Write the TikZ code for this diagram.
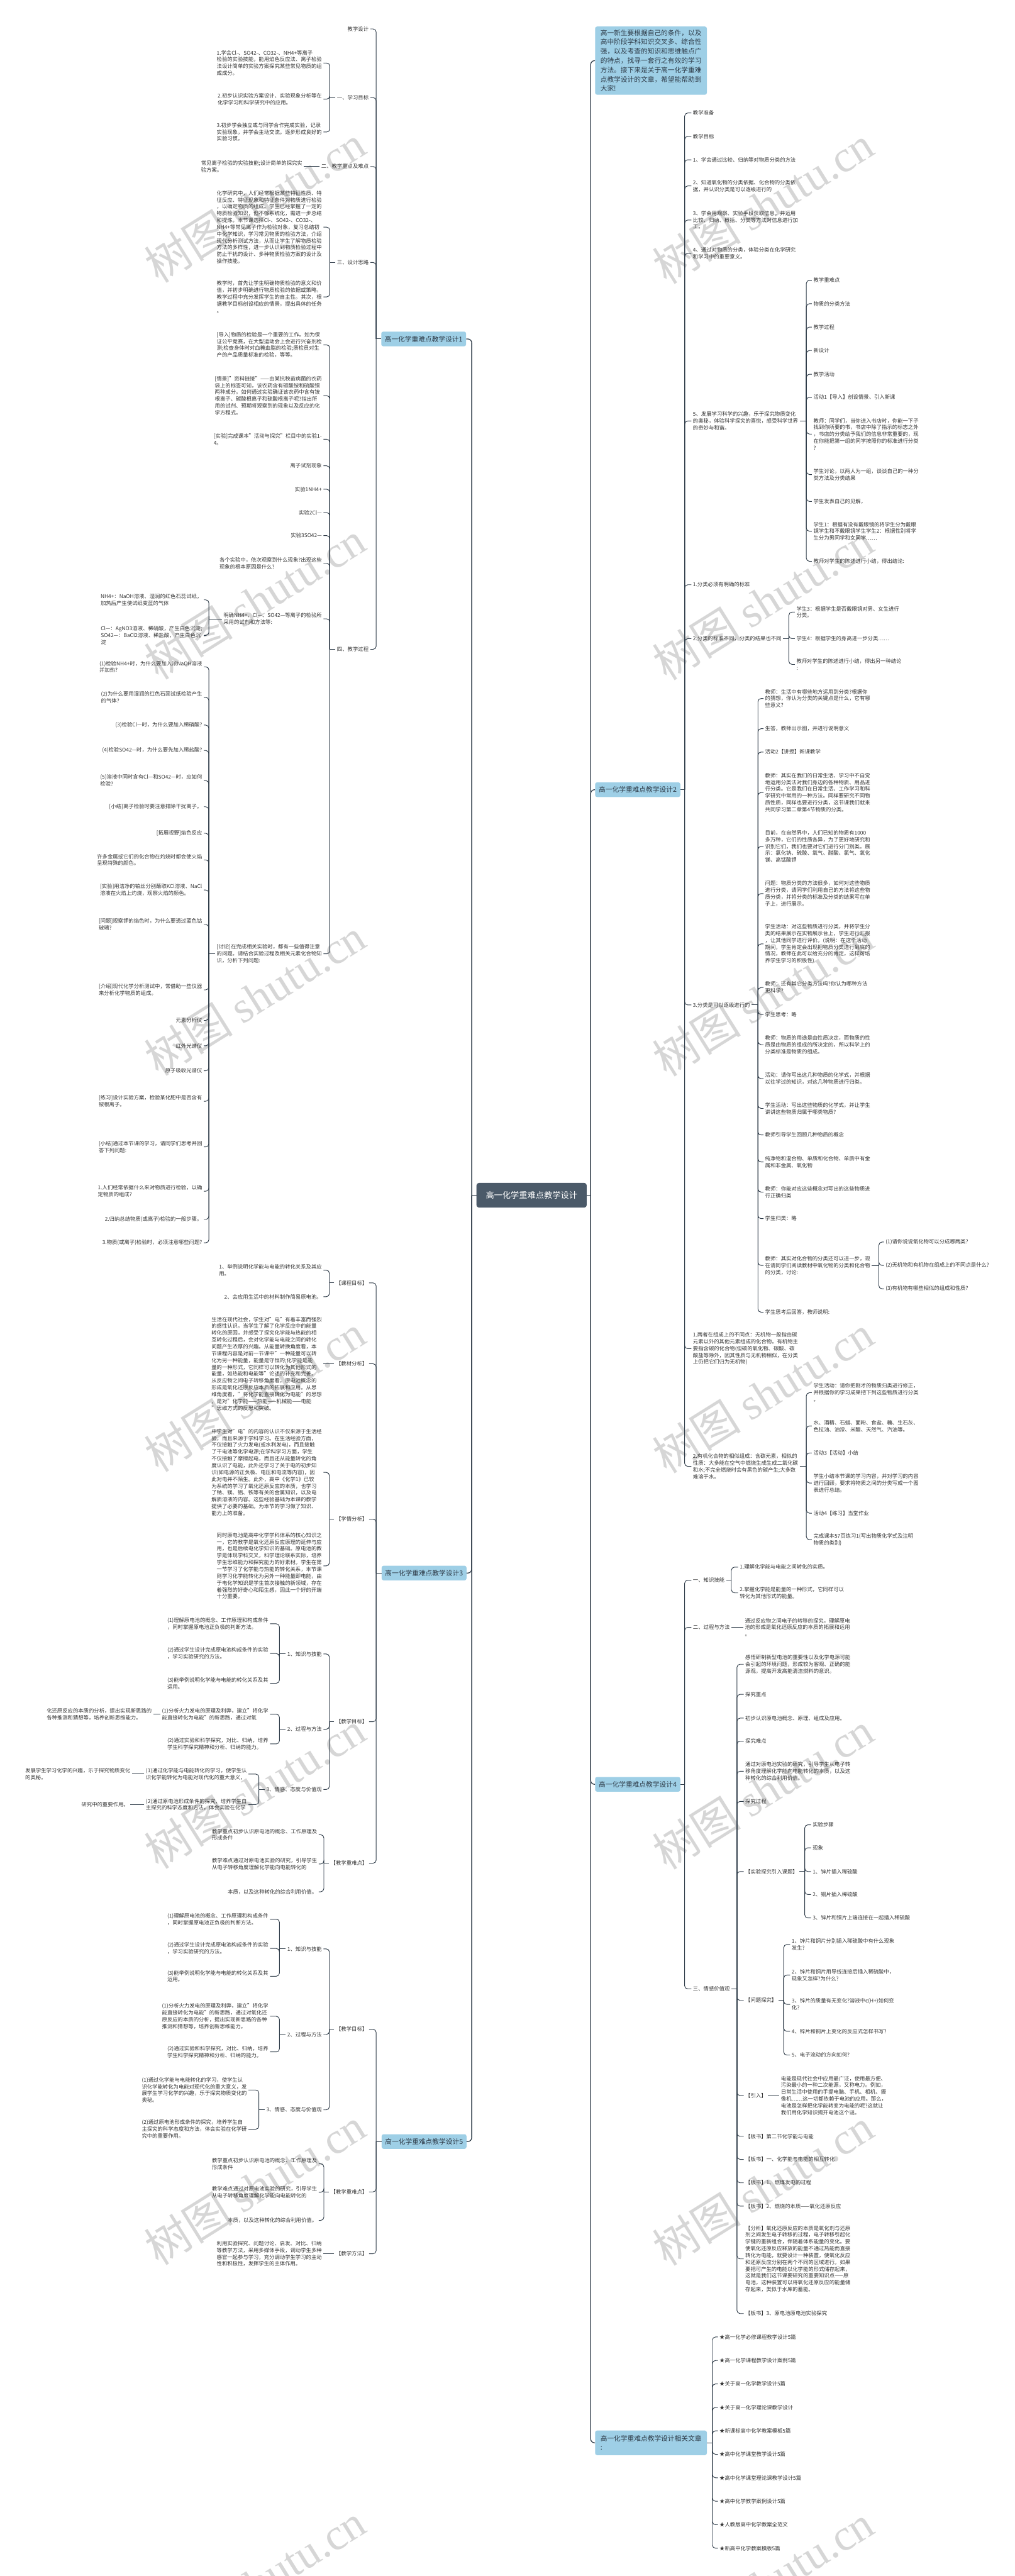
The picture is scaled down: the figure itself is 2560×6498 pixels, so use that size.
\documentclass[tikz,border=0pt]{standalone}
\usepackage{fontspec}
\setmainfont{Noto Sans CJK SC}
\newfontfamily\wmfont{Liberation Serif}

\definecolor{linec}{HTML}{2E3B48}
\definecolor{textc}{HTML}{333333}
\definecolor{topicc}{HTML}{9ECFE6}
\definecolor{rootc}{HTML}{4B5A69}

\tikzset{
  txt/.style={font=\fontsize{13.25}{17.2}\selectfont, align=left, inner xsep=4pt, inner ysep=1pt, text=textc},
  link/.style={draw=linec, line width=1.5pt, rounded corners=8pt},
  trunk/.style={draw=linec, line width=2pt, rounded corners=10pt},
  topic/.style={fill=topicc, rounded corners=5pt, font=\fontsize{17}{22}\selectfont, text=linec, inner xsep=8pt, inner ysep=4pt, minimum height=37pt, align=left},
  root/.style={fill=rootc, text=white, rounded corners=6pt, font=\fontsize{21}{26}\selectfont, minimum width=278pt, minimum height=62pt},
  wm/.style={text=black!16, rotate=32, font=\fontsize{112}{112}\selectfont}
}

\begin{document}
\begin{tikzpicture}[x=1pt,y=-1pt]
\useasboundingbox (0,0) rectangle (2560,6498);
\fill[white] (0,0) rectangle (2560,6498);

% watermarks
\foreach \k in {0,...,6} {
  \node[wm] at (643,{515+1000*\k}) {树图 {\wmfont shutu.cn}};
  \node[wm] at (1925,{517+1000*\k}) {树图 {\wmfont shutu.cn}};
}

% root and main topics
\node[root] (root) at (1341,3015) {高一化学重难点教学设计};
\node[topic, anchor=east, minimum width=214pt] (d1) at (1176,855) {高一化学重难点教学设计1};
\node[topic, anchor=east, minimum width=214pt] (d3) at (1177,3968) {高一化学重难点教学设计3};
\node[topic, anchor=east, minimum width=214pt] (d5) at (1177,5402) {高一化学重难点教学设计5};
\node[topic, anchor=west, minimum width=282pt, minimum height=172pt, font=\fontsize{17}{23.5}\selectfont] (intro) at (1501,153) {高一新生要根据自己的条件，以及\\高中阶段学科知识交叉多、综合性\\强，以及考查的知识和思维触点广\\的特点，找寻一套行之有效的学习\\方法。接下来是关于高一化学重难\\点教学设计的文章，希望能帮助到\\大家!};
\node[topic, anchor=west, minimum width=215pt] (d2) at (1501,1992) {高一化学重难点教学设计2};
\node[topic, anchor=west, minimum width=215pt] (d4) at (1501,4501) {高一化学重难点教学设计4};
\node[topic, anchor=west, minimum width=282pt, minimum height=62pt] (rel) at (1501,6162) {高一化学重难点教学设计相关文章\\:};

\coordinate (rootL) at (1190,3015);
\coordinate (rootR) at (1490,3015);
\draw[trunk] (root.west) -- (rootL);
\foreach \t in {d1,d3,d5} \draw[trunk] (rootL) |- (\t.east);
\draw[trunk] (root.east) -- (rootR);
\foreach \t in {intro,d2,d4,rel} \draw[trunk] (rootR) |- (\t.west);

% ---------- design 1 ----------
\node[txt, anchor=east] (d1a) at (934,73) {教学设计};
\node[txt, anchor=east] (d1b) at (934,246) {一、学习目标};
\node[txt, anchor=east] (d1c) at (934,420) {二、教学重点及难点};
\node[txt, anchor=east] (d1d) at (934,662) {三、设计思路};
\node[txt, anchor=east] (d1e) at (934,1638) {四、教学过程};
\coordinate (d1-j) at (949,855);
\draw[link] (d1.west) -- (d1-j);
\foreach \c in {d1a,d1b,d1c,d1d,d1e} \draw[link] (d1-j) |- (\c.east);

\node[txt, anchor=east] (d1b1) at (816,159) {1.学会Cl-、SO42-、CO32-、NH4+等离子\\检验的实验技能，能用焰色反应法、离子检验\\法设计简单的实验方案探究某些常见物质的组\\成成分。};
\node[txt, anchor=east] (d1b2) at (816,250) {2.初步认识实验方案设计、实验现象分析等在\\化学学习和科学研究中的应用。};
\node[txt, anchor=east] (d1b3) at (816,333) {3.初步学会独立或与同学合作完成实验，记录\\实验现象，并学会主动交流。逐步形成良好的\\实验习惯。};
\coordinate (d1b-j) at (832,246);
\draw[link] (d1b.west) -- (d1b-j);
\foreach \c in {d1b1,d1b2,d1b3} \draw[link] (d1b-j) |- (\c.east);

\node[txt, anchor=east] (d1c1) at (767,420) {常见离子检验的实验技能;设计简单的探究实\\验方案。};
\draw[link] (d1c.west) -- (d1c1.east);

\node[txt, anchor=east] (d1d1) at (816,573) {化学研究中，人们经常根据某些特征性质、特\\征反应、特征现象和特征条件对物质进行检验\\，以确定物质的组成。学生已经掌握了一定的\\物质检验知识，但不够系统化，需进一步总结\\和提炼。本节课选择Cl-、SO42-、CO32-、\\NH4+等常见离子作为检验对象，复习总结初\\中化学知识，学习常见物质的检验方法，介绍\\现代分析测试方法，从而让学生了解物质检验\\方法的多样性，进一步认识到物质检验过程中\\防止干扰的设计、多种物质检验方案的设计及\\操作技能。};
\node[txt, anchor=east] (d1d2) at (816,749) {教学时，首先让学生明确物质检验的意义和价\\值，并初步明确进行物质检验的依据或策略，\\教学过程中充分发挥学生的自主性。其次，根\\据教学目标创设相应的情景，提出具体的任务\\。};
\coordinate (d1d-j) at (832,662);
\draw[link] (d1d.west) -- (d1d-j);
\foreach \c in {d1d1,d1d2} \draw[link] (d1d-j) |- (\c.east);

\node[txt, anchor=east] (d1e1) at (816,870) {{}[导入]物质的检验是一个重要的工作。如为保\\证公平竞赛，在大型运动会上会进行兴奋剂检\\测;检查身体时对血糖血脂的检验;质检员对生\\产的产品质量标准的检验，等等。};
\node[txt, anchor=east] (d1e2) at (816,998) {{}[情景]"资料链接"——由某抗秧苗病菌的农药\\袋上的标签可知，该农药含有碳酸铵和硫酸铜\\两种成分。如何通过实验确证该农药中含有铵\\根离子、碳酸根离子和硫酸根离子呢?指出所\\用的试剂、预期将观察到的现象以及反应的化\\学方程式。};
\node[txt, anchor=east] (d1e3) at (816,1108) {{}[实验]完成课本"活动与探究"栏目中的实验1-\\4。};
\node[txt, anchor=east] (d1e4) at (816,1175) {离子试剂现象};
\node[txt, anchor=east] (d1e5) at (816,1234) {实验1NH4+};
\node[txt, anchor=east] (d1e6) at (816,1293) {实验2Cl—};
\node[txt, anchor=east] (d1e7) at (816,1351) {实验3SO42—};
\node[txt, anchor=east] (d1e8) at (816,1421) {各个实验中，依次观察到什么现象?出现这些\\现象的根本原因是什么?};
\node[txt, anchor=east] (d1e9) at (816,1561) {明确NH4+、Cl—、SO42—等离子的检验所\\采用的试剂和方法等:};
\node[txt, anchor=east] (d1e10) at (816,2406) {{}[讨论]在完成相关实验时，都有一些值得注意\\的问题。请结合实验过程及相关元素化合物知\\识，分析下列问题:};
\coordinate (d1e-j) at (832,1638);
\draw[link] (d1e.west) -- (d1e-j);
\foreach \c in {d1e1,d1e2,d1e3,d1e4,d1e5,d1e6,d1e7,d1e8,d1e9,d1e10} \draw[link] (d1e-j) |- (\c.east);

\node[txt, anchor=east] (d1g1) at (514,1513) {NH4+：NaOH溶液、湿润的红色石蕊试纸，\\加热后产生使试纸变蓝的气体};
\node[txt, anchor=east] (d1g2) at (514,1603) {Cl—：AgNO3溶液、稀硝酸，产生白色沉淀;\\SO42—：BaCl2溶液、稀盐酸，产生白色沉\\淀};
\coordinate (d1e9-j) at (527,1561);
\draw[link] (d1e9.west) -- (d1e9-j);
\foreach \c in {d1g1,d1g2} \draw[link] (d1e9-j) |- (\c.east);

\node[txt, anchor=east] (d1f1) at (514,1682) {(1)检验NH4+时，为什么要加入浓NaOH溶液\\并加热?};
\node[txt, anchor=east] (d1f2) at (514,1759) {(2)为什么要用湿润的红色石蕊试纸检验产生\\的气体?};
\node[txt, anchor=east] (d1f3) at (514,1829) {(3)检验Cl—时，为什么要加入稀硝酸?};
\node[txt, anchor=east] (d1f4) at (514,1893) {(4)检验SO42—时，为什么要先加入稀盐酸?};
\node[txt, anchor=east] (d1f5) at (514,1969) {(5)溶液中同时含有Cl—和SO42—时，应如何\\检验?};
\node[txt, anchor=east] (d1f6) at (514,2035) {{}[小结]离子检验时要注意排除干扰离子。};
\node[txt, anchor=east] (d1f7) at (514,2102) {{}[拓展视野]焰色反应};
\node[txt, anchor=east] (d1f8) at (514,2169) {许多金属或它们的化合物在灼烧时都会使火焰\\呈现特殊的颜色。};
\node[txt, anchor=east] (d1f9) at (514,2245) {{}[实验]用洁净的铂丝分别蘸取KCl溶液、NaCl\\溶液在火焰上灼烧，观察火焰的颜色。};
\node[txt, anchor=east] (d1f10) at (514,2332) {{}[问题]观察钾的焰色时，为什么要透过蓝色钴\\玻璃?};
\node[txt, anchor=east] (d1f11) at (514,2497) {{}[介绍]现代化学分析测试中，常借助一些仪器\\来分析化学物质的组成。};
\node[txt, anchor=east] (d1f12) at (514,2574) {元素分析仪};
\node[txt, anchor=east] (d1f13) at (514,2638) {红外光谱仪};
\node[txt, anchor=east] (d1f14) at (514,2701) {原子吸收光谱仪};
\node[txt, anchor=east] (d1f15) at (514,2778) {{}[练习]设计实验方案，检验某化肥中是否含有\\铵根离子。};
\node[txt, anchor=east] (d1f16) at (514,2893) {{}[小结]通过本节课的学习，请同学们思考并回\\答下列问题:};
\node[txt, anchor=east] (d1f17) at (514,3005) {1.人们经常依据什么来对物质进行检验，以确\\定物质的组成?};
\node[txt, anchor=east] (d1f18) at (514,3076) {2.归纳总结物质(或离子)检验的一般步骤。};
\node[txt, anchor=east] (d1f19) at (514,3135) {3.物质(或离子)检验时，必须注意哪些问题?};
\coordinate (d1e10-j) at (527,2406);
\draw[link] (d1e10.west) -- (d1e10-j);
\foreach \i in {1,...,19} \draw[link] (d1e10-j) |- (d1f\i.east);

% ---------- design 3 ----------
\node[txt, anchor=east] (d3a) at (931,3236) {【课程目标】};
\node[txt, anchor=east] (d3b) at (931,3440) {【教材分析】};
\node[txt, anchor=east] (d3c) at (931,3832) {【学情分析】};
\node[txt, anchor=east] (d3d) at (931,4343) {【教学目标】};
\node[txt, anchor=east] (d3e) at (931,4700) {【教学重难点】};
\coordinate (d3-j) at (949,3968);
\draw[link] (d3.west) -- (d3-j);
\foreach \c in {d3a,d3b,d3c,d3d,d3e} \draw[link] (d3-j) |- (\c.east);

\node[txt, anchor=east] (d3a1) at (816,3204) {1、举例说明化学能与电能的转化关系及其应\\用。};
\node[txt, anchor=east] (d3a2) at (816,3271) {2、会应用生活中的材料制作简易原电池。};
\coordinate (d3a-j) at (831,3236);
\draw[link] (d3a.west) -- (d3a-j);
\foreach \c in {d3a1,d3a2} \draw[link] (d3a-j) |- (\c.east);

\node[txt, anchor=east] (d3b1) at (816,3440) {生活在现代社会，学生对"电"有着丰富而强烈\\的感性认识。当学生了解了化学反应中的能量\\转化的原因，并感受了探究化学能与热能的相\\互转化过程后，会对化学能与电能之间的转化\\问题产生浓厚的兴趣。从能量转换角度看，本\\节课程内容是对前一节课中"一种能量可以转\\化为另一种能量，能量是守恒的;化学能是能\\量的一种形式，它同样可以转化为其他形式的\\能量，如热能和电能等"论述的补充和完善。\\从反应物之间电子转移角度看，原电池概念的\\形成是氧化还原反应本质的拓展和应用。从思\\维角度看，"将化学能直接转化为电能"的思想\\，是对"化学能——热能——机械能——电能\\"思维方式的反思和突破。};
\draw[link] (d3b.west) -- (d3b1.east);

\node[txt, anchor=east] (d3c1) at (816,3714) {中学生对"电"的内容的认识不仅来源于生活经\\验，而且来源于学科学习。在生活经验方面，\\不仅接触了火力发电(或水利发电)，而且接触\\了干电池等化学电源;在学科学习方面，学生\\不仅接触了摩擦起电，而且还从能量转化的角\\度认识了电能，此外还学习了关于电的初步知\\识(如电源的正负极、电压和电流等内容)，因\\此对电并不陌生。此外，高中《化学1》已较\\为系统的学习了氧化还原反应的本质，也学习\\了钠、镁、铝、铁等有关的金属知识，以及电\\解质溶液的内容。这些经验基础为本课的教学\\提供了必要的基础。为本节的学习做了知识、\\能力上的准备。};
\node[txt, anchor=east] (d3c2) at (816,3950) {同时原电池是高中化学学科体系的核心知识之\\一，它的教学是氧化还原反应原理的延伸与应\\用，也是后续电化学知识的基础。原电池的教\\学是体现学科交叉，科学理论联系实际，培养\\学生思维能力和探究能力的好素材。学生在第\\一节学习了化学能与热能的转化关系，本节课\\则学习化学能转化为另外一种能量即电能，由\\于电化学知识是学生首次接触的新领域，存在\\着强烈的好奇心和陌生感，因此一个好的开端\\十分重要。};
\coordinate (d3c-j) at (831,3832);
\draw[link] (d3c.west) -- (d3c-j);
\foreach \c in {d3c1,d3c2} \draw[link] (d3c-j) |- (\c.east);

\node[txt, anchor=east] (d3d1) at (816,4172) {1、知识与技能};
\node[txt, anchor=east] (d3d2) at (816,4362) {2、过程与方法};
\node[txt, anchor=east] (d3d3) at (816,4514) {3、情感、态度与价值观};
\coordinate (d3d-j) at (831,4343);
\draw[link] (d3d.west) -- (d3d-j);
\foreach \c in {d3d1,d3d2,d3d3} \draw[link] (d3d-j) |- (\c.east);

\node[txt, anchor=east] (d3d11) at (681,4096) {(1)理解原电池的概念、工作原理和构成条件\\，同时掌握原电池正负极的判断方法。};
\node[txt, anchor=east] (d3d12) at (681,4171) {(2)通过学生设计完成原电池构成条件的实验\\，学习实验研究的方法。};
\node[txt, anchor=east] (d3d13) at (681,4246) {(3)能举例说明化学能与电能的转化关系及其\\运用。};
\coordinate (d3d1-j) at (705,4172);
\draw[link] (d3d1.west) -- (d3d1-j);
\foreach \c in {d3d11,d3d12,d3d13} \draw[link] (d3d1-j) |- (\c.east);

\node[txt, anchor=east] (d3d21) at (681,4324) {(1)分析火力发电的原理及利弊，建立"将化学\\能直接转化为电能"的新思路，通过对氧};
\node[txt, anchor=east] (d3d22) at (681,4399) {(2)通过实验和科学探究，对比、归纳，培养\\学生科学探究精神和分析、归纳的能力。};
\coordinate (d3d2-j) at (705,4362);
\draw[link] (d3d2.west) -- (d3d2-j);
\foreach \c in {d3d21,d3d22} \draw[link] (d3d2-j) |- (\c.east);
\node[txt, anchor=east] (d3d211) at (387,4324) {化还原反应的本质的分析，提出实现新思路的\\各种推测和猜想等，培养创新思维能力。};
\draw[link] (d3d21.west) -- (d3d211.east);

\node[txt, anchor=east] (d3d31) at (627,4475) {(1)通过化学能与电能转化的学习，使学生认\\识化学能转化为电能对现代化的重大意义，};
\node[txt, anchor=east] (d3d32) at (627,4552) {(2)通过原电池形成条件的探究，培养学生自\\主探究的科学态度和方法，体会实验在化学};
\coordinate (d3d3-j) at (653,4514);
\draw[link] (d3d3.west) -- (d3d3-j);
\foreach \c in {d3d31,d3d32} \draw[link] (d3d3-j) |- (\c.east);
\node[txt, anchor=east] (d3d311) at (333,4475) {发展学生学习化学的兴趣，乐于探究物质变化\\的奥秘。};
\node[txt, anchor=east] (d3d321) at (329,4552) {研究中的重要作用。};
\draw[link] (d3d31.west) -- (d3d311.east);
\draw[link] (d3d32.west) -- (d3d321.east);

\node[txt, anchor=east] (d3e1) at (804,4628) {教学重点初步认识原电池的概念、工作原理及\\形成条件};
\node[txt, anchor=east] (d3e2) at (804,4702) {教学难点通过对原电池实验的研究，引导学生\\从电子转移角度理解化学能向电能转化的};
\node[txt, anchor=east] (d3e3) at (804,4772) {本质，以及这种转化的综合利用价值。};
\coordinate (d3e-j) at (817,4700);
\draw[link] (d3e.west) -- (d3e-j);
\foreach \c in {d3e1,d3e2,d3e3} \draw[link] (d3e-j) |- (\c.east);

% ---------- design 5 ----------
\node[txt, anchor=east] (d5a) at (931,5119) {【教学目标】};
\node[txt, anchor=east] (d5b) at (931,5529) {【教学重难点】};
\node[txt, anchor=east] (d5c) at (931,5685) {【教学方法】};
\coordinate (d5-j) at (949,5402);
\draw[link] (d5.west) -- (d5-j);
\foreach \c in {d5a,d5b,d5c} \draw[link] (d5-j) |- (\c.east);

\node[txt, anchor=east] (d5a1) at (816,4916) {1、知识与技能};
\node[txt, anchor=east] (d5a2) at (816,5132) {2、过程与方法};
\node[txt, anchor=east] (d5a3) at (816,5322) {3、情感、态度与价值观};
\coordinate (d5a-j) at (831,5119);
\draw[link] (d5a.west) -- (d5a-j);
\foreach \c in {d5a1,d5a2,d5a3} \draw[link] (d5a-j) |- (\c.east);

\node[txt, anchor=east] (d5a11) at (681,4841) {(1)理解原电池的概念、工作原理和构成条件\\，同时掌握原电池正负极的判断方法。};
\node[txt, anchor=east] (d5a12) at (681,4915) {(2)通过学生设计完成原电池构成条件的实验\\，学习实验研究的方法。};
\node[txt, anchor=east] (d5a13) at (681,4985) {(3)能举例说明化学能与电能的转化关系及其\\运用。};
\coordinate (d5a1-j) at (705,4916);
\draw[link] (d5a1.west) -- (d5a1-j);
\foreach \c in {d5a11,d5a12,d5a13} \draw[link] (d5a1-j) |- (\c.east);

\node[txt, anchor=east] (d5a21) at (681,5086) {(1)分析火力发电的原理及利弊，建立"将化学\\能直接转化为电能"的新思路，通过对氧化还\\原反应的本质的分析，提出实现新思路的各种\\推测和猜想等，培养创新思维能力。};
\node[txt, anchor=east] (d5a22) at (681,5176) {(2)通过实验和科学探究，对比、归纳，培养\\学生科学探究精神和分析、归纳的能力。};
\coordinate (d5a2-j) at (705,5132);
\draw[link] (d5a2.west) -- (d5a2-j);
\foreach \c in {d5a21,d5a22} \draw[link] (d5a2-j) |- (\c.east);

\node[txt, anchor=east] (d5a31) at (627,5272) {(1)通过化学能与电能转化的学习，使学生认\\识化学能转化为电能对现代化的重大意义，发\\展学生学习化学的兴趣，乐于探究物质变化的\\奥秘。};
\node[txt, anchor=east] (d5a32) at (627,5371) {(2)通过原电池形成条件的探究，培养学生自\\主探究的科学态度和方法，体会实验在化学研\\究中的重要作用。};
\coordinate (d5a3-j) at (653,5322);
\draw[link] (d5a3.west) -- (d5a3-j);
\foreach \c in {d5a31,d5a32} \draw[link] (d5a3-j) |- (\c.east);

\node[txt, anchor=east] (d5b1) at (804,5458) {教学重点初步认识原电池的概念、工作原理及\\形成条件};
\node[txt, anchor=east] (d5b2) at (804,5530) {教学难点通过对原电池实验的研究，引导学生\\从电子转移角度理解化学能向电能转化的};
\node[txt, anchor=east] (d5b3) at (804,5601) {本质，以及这种转化的综合利用价值。};
\coordinate (d5b-j) at (817,5529);
\draw[link] (d5b.west) -- (d5b-j);
\foreach \c in {d5b1,d5b2,d5b3} \draw[link] (d5b-j) |- (\c.east);

\node[txt, anchor=east] (d5c1) at (816,5685) {利用实验探究、问题讨论、启发、对比、归纳\\等教学方法，采用多媒体手段，调动学生多种\\感官一起参与学习，充分调动学生学习的主动\\性和积极性，发挥学生的主体作用。};
\draw[link] (d5c.west) -- (d5c1.east);

% ---------- design 2 ----------
\node[txt, anchor=west] (d2a) at (1744,285) {教学准备};
\node[txt, anchor=west] (d2b) at (1744,344) {教学目标};
\node[txt, anchor=west] (d2c) at (1744,403) {1、学会通过比较、归纳等对物质分类的方法};
\node[txt, anchor=west] (d2d) at (1744,469) {2、知道氧化物的分类依据、化合物的分类依\\据，并认识分类是可以逐级进行的};
\node[txt, anchor=west] (d2e) at (1744,555) {3、学会用观察、实验手段获取信息，并运用\\比较、归纳、概括、分类等方法对信息进行加\\工。};
\node[txt, anchor=west] (d2f) at (1744,639) {4、通过对物质的分类，体验分类在化学研究\\和学习中的重要意义。};
\node[txt, anchor=west] (d2g) at (1744,1062) {5、发展学习科学的兴趣，乐于探究物质变化\\的奥秘，体验科学探究的喜悦，感受科学世界\\的奇妙与和谐。};
\node[txt, anchor=west] (d2h) at (1744,1475) {1.分类必须有明确的标准};
\node[txt, anchor=west] (d2i) at (1744,1611) {2.分类的标准不同，分类的结果也不同};
\node[txt, anchor=west] (d2j) at (1744,2535) {3.分类是可以逐级进行的};
\node[txt, anchor=west] (d2k) at (1744,3402) {1.两者在组成上的不同点：无机物一般指由碳\\元素以外的其他元素组成的化合物。有机物主\\要指含碳的化合物(但碳的氧化物、碳酸、碳\\酸盐等除外，因其性质与无机物相似，在分类\\上仍把它们归为无机物)};
\node[txt, anchor=west] (d2l) at (1744,3699) {2.有机化合物的相似组成：含碳元素，相似的\\性质：大多能在空气中燃烧生成生成二氧化碳\\和水;不完全燃烧时会有黑色的碳产生;大多数\\难溶于水。};
\coordinate (d2-j) at (1727,1992);
\draw[link] (d2.east) -- (d2-j);
\foreach \c in {d2a,d2b,d2c,d2d,d2e,d2f,d2g,d2h,d2i,d2j,d2k,d2l} \draw[link] (d2-j) |- (\c.west);

\node[txt, anchor=west] (d2g1) at (2048,707) {教学重难点};
\node[txt, anchor=west] (d2g2) at (2048,766) {物质的分类方法};
\node[txt, anchor=west] (d2g3) at (2048,825) {教学过程};
\node[txt, anchor=west] (d2g4) at (2048,884) {新设计};
\node[txt, anchor=west] (d2g5) at (2048,944) {教学活动};
\node[txt, anchor=west] (d2g6) at (2048,1002) {活动1【导入】创设情景、引入新课};
\node[txt, anchor=west] (d2g7) at (2048,1095) {教师：同学们，当你进入书店时，你能一下子\\找到你所要的书，书店中除了指示的标志之外\\，书店的分类给予我们的信息非常重要的，现\\在你能把第一组的同学按照你的标准进行分类\\?};
\node[txt, anchor=west] (d2g8) at (2048,1197) {学生讨论，以两人为一组，谈谈自己的一种分\\类方法及分类结果};
\node[txt, anchor=west] (d2g9) at (2048,1265) {学生发表自己的见解，};
\node[txt, anchor=west] (d2g10) at (2048,1340) {学生1：根据有没有戴眼镜的将学生分为戴眼\\镜学生和不戴眼镜学生学生2：根据性别将学\\生分为男同学和女同学……};
\node[txt, anchor=west] (d2g11) at (2048,1416) {教师对学生的陈述进行小结，得出结论:};
\coordinate (d2g-j) at (2034,1062);
\draw[link] (d2g.east) -- (d2g-j);
\foreach \i in {1,...,11} \draw[link] (d2g-j) |- (d2g\i.west);

\node[txt, anchor=west] (d2i1) at (2005,1544) {学生3：根据学生是否戴眼镜对男、女生进行\\分类。};
\node[txt, anchor=west] (d2i2) at (2005,1611) {学生4：根据学生的身高进一步分类……};
\node[txt, anchor=west] (d2i3) at (2005,1676) {教师对学生的陈述进行小结，得出另一种结论\\:};
\coordinate (d2i-j) at (1990,1611);
\draw[link] (d2i.east) -- (d2i-j);
\foreach \i in {1,2,3} \draw[link] (d2i-j) |- (d2i\i.west);

\node[txt, anchor=west] (d2j1) at (1926,1762) {教师：生活中有哪些地方运用到分类?根据你\\的猜想，你认为分类的关键点是什么，它有哪\\些意义?};
\node[txt, anchor=west] (d2j2) at (1926,1838) {生答，教师出示图，并进行说明意义};
\node[txt, anchor=west] (d2j3) at (1926,1897) {活动2【讲授】新课教学};
\node[txt, anchor=west] (d2j4) at (1926,1999) {教师：其实在我们的日常生活、学习中不自觉\\地运用分类法对我们身边的各种物质、用品进\\行分类。它是我们在日常生活、工作学习和科\\学研究中常用的一种方法。同样要研究不同物\\质性质，同样也要进行分类，这节课我们就来\\共同学习第二章第4节物质的分类。};
\node[txt, anchor=west] (d2j5) at (1926,2135) {目前，在自然界中，人们已知的物质有1000\\多万种，它们的性质各异，为了更好地研究和\\识别它们，我们也要对它们进行分门别类。展\\示：氯化钠、硫酸、氧气、醋酸、氯气、氧化\\镁、高锰酸钾};
\node[txt, anchor=west] (d2j6) at (1926,2254) {问题：物质分类的方法很多，如何对这些物质\\进行分类，请同学们利用自己的方法将这些物\\质分类，并将分类的标准及分类的结果写在单\\子上，进行展示。};
\node[txt, anchor=west] (d2j7) at (1926,2381) {学生活动：对这些物质进行分类，并将学生分\\类的结果展示在实物展示台上，学生进行汇报\\，让其他同学进行评价。(说明：在这个活动\\期间，学生肯定会出现把物质分类进行到底的\\情况，教师在此可以给充分的肯定，这样可培\\养学生学习的积极性)};
\node[txt, anchor=west] (d2j8) at (1926,2491) {教师：还有其它分类方法吗?你认为哪种方法\\更科学?};
\node[txt, anchor=west] (d2j9) at (1926,2559) {学生思考：略};
\node[txt, anchor=west] (d2j10) at (1926,2635) {教师：物质的用途是由性质决定，而物质的性\\质是由物质的组成的所决定的，所以科学上的\\分类标准是物质的组成。};
\node[txt, anchor=west] (d2j11) at (1926,2721) {活动：请你写出这几种物质的化学式，并根据\\以往学过的知识，对这几种物质进行归类。};
\node[txt, anchor=west] (d2j12) at (1926,2796) {学生活动：写出这些物质的化学式，并让学生\\讲讲这些物质归属于哪类物质?};
\node[txt, anchor=west] (d2j13) at (1926,2863) {教师引导学生回顾几种物质的概念};
\node[txt, anchor=west] (d2j14) at (1926,2931) {纯净物和混合物、单质和化合物、单质中有金\\属和非金属、氧化物};
\node[txt, anchor=west] (d2j15) at (1926,3007) {教师：你能对应这些概念对写出的这些物质进\\行正确归类};
\node[txt, anchor=west] (d2j16) at (1926,3074) {学生归类：略};
\node[txt, anchor=west] (d2j17) at (1926,3192) {教师：其实对化合物的分类还可以进一步，现\\在请同学们阅读教材中氧化物的分类和化合物\\的分类，讨论:};
\node[txt, anchor=west] (d2j18) at (1926,3310) {学生思考后回答，教师说明:};
\coordinate (d2j-j) at (1912,2535);
\draw[link] (d2j.east) -- (d2j-j);
\foreach \i in {1,...,18} \draw[link] (d2j-j) |- (d2j\i.west);

\node[txt, anchor=west] (d2m1) at (2230,3133) {(1)请你说说氧化物可以分成哪两类?};
\node[txt, anchor=west] (d2m2) at (2230,3192) {(2)无机物和有机物在组成上的不同点是什么?};
\node[txt, anchor=west] (d2m3) at (2230,3251) {(3)有机物有哪些相似的组成和性质?};
\coordinate (d2j17-j) at (2217,3192);
\draw[link] (d2j17.east) -- (d2j17-j);
\foreach \i in {1,2,3} \draw[link] (d2j17-j) |- (d2m\i.west);

\node[txt, anchor=west] (d2l1) at (2048,3513) {学生活动：请你把刚才的物质归类进行修正，\\并根据你的学习成果把下列这些物质进行分类\\。};
\node[txt, anchor=west] (d2l2) at (2048,3597) {水、酒精、石蜡、面粉、食盐、糖、生石灰、\\色拉油、油漆、米醋、天然气、汽油等。};
\node[txt, anchor=west] (d2l3) at (2048,3665) {活动3【活动】小结};
\node[txt, anchor=west] (d2l4) at (2048,3741) {学生小结本节课的学习内容，并对学习的内容\\进行回顾，要求将物质之间的分类写成一个图\\表进行总结。};
\node[txt, anchor=west] (d2l5) at (2048,3817) {活动4【练习】当堂作业};
\node[txt, anchor=west] (d2l6) at (2048,3884) {完成课本57页练习1(写出物质化学式及注明\\物质的类别)};
\coordinate (d2l-j) at (2034,3699);
\draw[link] (d2l.east) -- (d2l-j);
\foreach \i in {1,...,6} \draw[link] (d2l-j) |- (d2l\i.west);

% ---------- design 4 ----------
\node[txt, anchor=west] (d4a) at (1744,3986) {一、知识技能};
\node[txt, anchor=west] (d4b) at (1744,4105) {二、过程与方法};
\node[txt, anchor=west] (d4c) at (1744,5017) {三、情感价值观};
\coordinate (d4-j) at (1727,4501);
\draw[link] (d4.east) -- (d4-j);
\foreach \c in {d4a,d4b,d4c} \draw[link] (d4-j) |- (\c.west);

\node[txt, anchor=west] (d4a1) at (1862,3953) {1.理解化学能与电能之间转化的实质。};
\node[txt, anchor=west] (d4a2) at (1862,4018) {2.掌握化学能是能量的一种形式，它同样可以\\转化为其他形式的能量。};
\coordinate (d4a-j) at (1845,3986);
\draw[link] (d4a.east) -- (d4a-j);
\foreach \c in {d4a1,d4a2} \draw[link] (d4a-j) |- (\c.west);

\node[txt, anchor=west] (d4b1) at (1875,4105) {通过反应物之间电子的转移的探究，理解原电\\池的形成是氧化还原反应的本质的拓展和运用\\。};
\draw[link] (d4b.east) -- (d4b1.west);

\node[txt, anchor=west] (d4c1) at (1876,4198) {感悟研制新型电池的重要性以及化学电源可能\\会引起的环境问题，形成较为客观、正确的能\\源观，提高开发高能清洁燃料的意识。};
\node[txt, anchor=west] (d4c2) at (1876,4274) {探究重点};
\node[txt, anchor=west] (d4c3) at (1876,4334) {初步认识原电池概念、原理、组成及应用。};
\node[txt, anchor=west] (d4c4) at (1876,4392) {探究难点};
\node[txt, anchor=west] (d4c5) at (1876,4468) {通过对原电池实验的研究，引导学生从电子转\\移角度理解化学能向电能转化的本质，以及这\\种转化的综合利用价值。};
\node[txt, anchor=west] (d4c6) at (1876,4544) {探究过程};
\node[txt, anchor=west] (d4c7) at (1876,4721) {【实验探究引入课题】};
\node[txt, anchor=west] (d4c8) at (1876,5046) {【问题探究】};
\node[txt, anchor=west] (d4c9) at (1876,5286) {【引入】};
\node[txt, anchor=west] (d4c10) at (1876,5389) {【板书】第二节化学能与电能};
\node[txt, anchor=west] (d4c11) at (1876,5447) {【板书】一、化学能与电能的相互转化};
\node[txt, anchor=west] (d4c12) at (1876,5506) {【板书】1、燃煤发电的过程};
\node[txt, anchor=west] (d4c13) at (1876,5565) {【板书】2、燃烧的本质——氧化还原反应};
\node[txt, anchor=west] (d4c14) at (1876,5698) {【分析】氧化还原反应的本质是氧化剂与还原\\剂之间发生电子转移的过程，电子转移引起化\\学键的重新组合，伴随着体系能量的变化。要\\使氧化还原反应释放的能量不通过热能而直接\\转化为电能，就要设计一种装置，使氧化反应\\和还原反应分别在两个不同的区域进行。如果\\要把可产生的电能以化学能的形式储存起来，\\这就是我们这节课要研究的重要知识点——原\\电池，这种装置可以将氧化还原反应的能量储\\存起来，类似于水库的蓄能。};
\node[txt, anchor=west] (d4c15) at (1876,5836) {【板书】3、原电池原电池实验探究};
\coordinate (d4c-j) at (1859,5017);
\draw[link] (d4c.east) -- (d4c-j);
\foreach \i in {1,...,15} \draw[link] (d4c-j) |- (d4c\i.west);

\node[txt, anchor=west] (d4e1) at (2046,4603) {实验步骤};
\node[txt, anchor=west] (d4e2) at (2046,4661) {现象};
\node[txt, anchor=west] (d4e3) at (2046,4721) {1、锌片插入稀硫酸};
\node[txt, anchor=west] (d4e4) at (2046,4779) {2、铜片插入稀硫酸};
\node[txt, anchor=west] (d4e5) at (2046,4838) {3、锌片和铜片上端连接在一起插入稀硫酸};
\coordinate (d4c7-j) at (2030,4721);
\draw[link] (d4c7.east) -- (d4c7-j);
\foreach \i in {1,...,5} \draw[link] (d4c7-j) |- (d4e\i.west);

\node[txt, anchor=west] (d4q1) at (1993,4905) {1、锌片和铜片分别插入稀硫酸中有什么现象\\发生?};
\node[txt, anchor=west] (d4q2) at (1993,4982) {2、锌片和铜片用导线连接后插入稀硫酸中，\\现象又怎样?为什么?};
\node[txt, anchor=west] (d4q3) at (1993,5056) {3、锌片的质量有无变化?溶液中c(H+)如何变\\化?};
\node[txt, anchor=west] (d4q4) at (1993,5124) {4、锌片和铜片上变化的反应式怎样书写?};
\node[txt, anchor=west] (d4q5) at (1993,5184) {5、电子流动的方向如何?};
\coordinate (d4c8-j) at (1977,5046);
\draw[link] (d4c8.east) -- (d4c8-j);
\foreach \i in {1,...,5} \draw[link] (d4c8-j) |- (d4q\i.west);

\node[txt, anchor=west] (d4r1) at (1966,5286) {电能是现代社会中应用最广泛，使用最方便、\\污染最小的一种二次能源，又称电力。例如，\\日常生活中使用的手提电脑、手机、相机、摄\\像机……这一切都依赖于电池的应用。那么，\\电池是怎样把化学能转变为电能的呢?这就让\\我们用化学知识揭开电池这个谜。};
\draw[link] (d4c9.east) -- (d4r1.west);

% ---------- related articles ----------
\foreach \t [count=\i from 0] in {高一化学必修课程教学设计5篇, 高一化学课程教学设计案例5篇, 关于高一化学教学设计5篇, 关于高一化学理论课教学设计, 新课标高中化学教案模板5篇, 高中化学课堂教学设计5篇, 高中化学课堂理论课教学设计5篇, 高中化学教学案例设计5篇, 人教版高中化学教案全范文, 新高中化学教案模板5篇}
  \node[txt, anchor=west] (r\i) at (1811,{5895+59.2*\i}) {★\t};
\coordinate (rel-j) at (1797,6162);
\draw[link] (rel.east) -- (rel-j);
\foreach \i in {0,...,9} \draw[link] (rel-j) |- (r\i.west);
\end{tikzpicture}
\end{document}
